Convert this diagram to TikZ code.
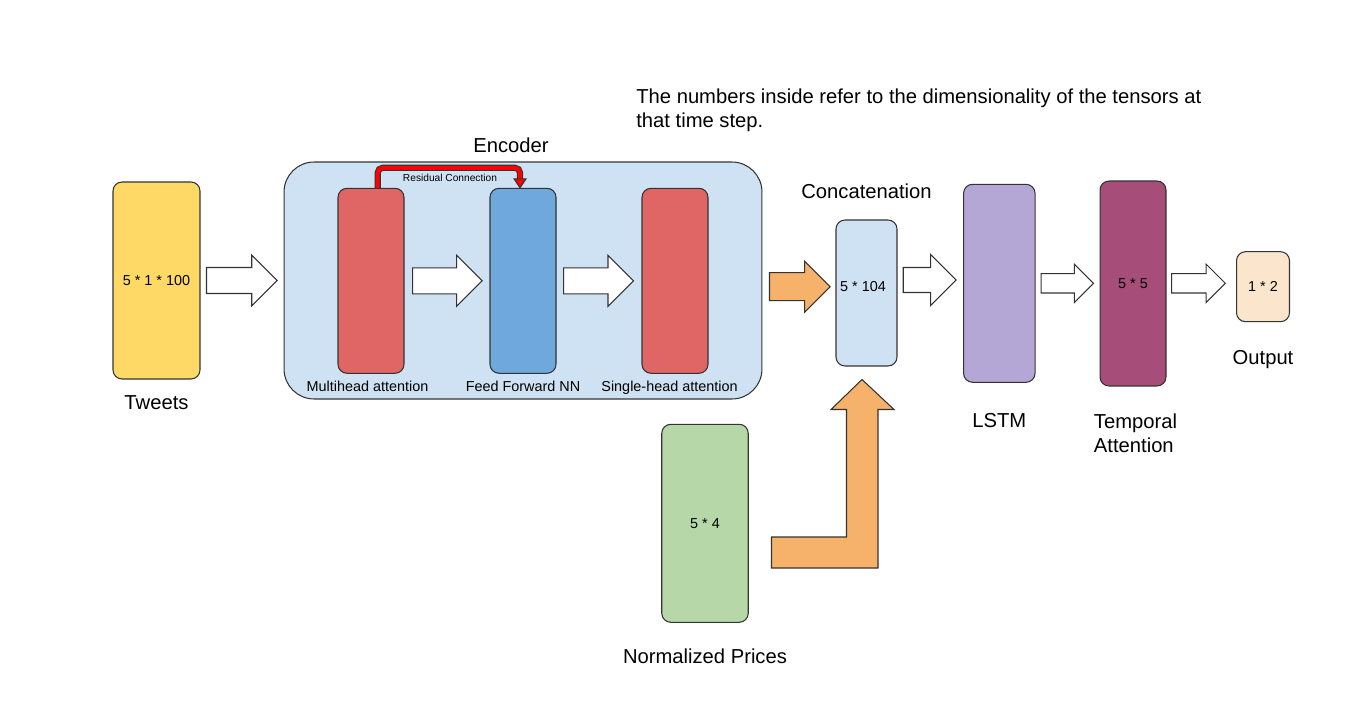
\documentclass[tikz,border=0pt]{standalone}
\usepackage{fontspec}
\setmainfont{Liberation Sans}
\usetikzlibrary{positioning}
\usetikzlibrary{calc}
\usetikzlibrary{arrows.meta}

\definecolor{tweetyel}{HTML}{FFD966}
\definecolor{encblue}{HTML}{CFE2F3}
\definecolor{attred}{HTML}{E06666}
\definecolor{ffblue}{HTML}{6FA8DC}
\definecolor{lstmpurple}{HTML}{B4A7D6}
\definecolor{tamagenta}{HTML}{A64D79}
\definecolor{outpeach}{HTML}{FCE5CD}
\definecolor{pricegreen}{HTML}{B6D7A8}
\definecolor{catorange}{HTML}{F6B26B}

% block arrow: [fill]{start}{tip}{half shaft}{half head}
\newcommand{\fatarrow}[5][white]{%
  \coordinate (fa-e) at #3;
  \coordinate (fa-s0) at #2;
  \coordinate (fa-s) at (fa-s0 |- fa-e);
  \draw[fatline, fill=#1] ($(fa-s)+(0,-#4)$) -- ($(fa-e)+(-#5,-#4)$) -- ($(fa-e)+(-#5,-#5)$) -- (fa-e)
    -- ($(fa-e)+(-#5,#5)$) -- ($(fa-e)+(-#5,#4)$) -- ($(fa-s)+(0,#4)$) -- cycle;}

\begin{document}
\begin{tikzpicture}[x=0.02cm,y=-0.02cm]
				\tikzset{block/.style = {shape=rectangle, rounded corners=0.18cm, draw=black!80, line width=0.6pt, inner sep=0pt, font=\fontsize{8.2}{9.8}\selectfont}}
				\tikzset{boxcap/.style = {inner sep=0pt, align=left, font=\fontsize{11.5}{13.6}\selectfont}}
				\tikzset{subcap/.style = {inner sep=0pt, font=\fontsize{8.2}{9.8}\selectfont}}
				\tikzset{tinycap/.style = {inner sep=0pt, font=\fontsize{5.8}{7}\selectfont}}
				\tikzset{fatline/.style = {draw=black!80, line width=0.6pt}}
				\tikzset{resid/.style = {draw=red, line width=2.3pt, rounded corners=0.1cm, preaction={draw=black!80, line width=3.5pt}}}
				\tikzset{residhead/.style = {fill=red, draw=black!80, line width=0.6pt}}
				\useasboundingbox (0,0) rectangle (1364,722);

				\node[boxcap, anchor=north west] (note) at (636,89)
				{The numbers inside refer to the dimensionality of the tensors at\\that time step.};

				\node[block, fill=tweetyel, minimum width=1.74cm, minimum height=3.94cm] (tw) at (156.5,280.5) {5 * 1 * 100};
				\node[boxcap, below=0.32cm of tw] (twcap) {Tweets};

				% encoder
				\node[block, fill=encblue, rounded corners=0.6cm, minimum width=9.56cm, minimum height=4.74cm] (enc) at (523,280.5) {};
				\node[boxcap, above=0.16cm of enc, xshift=-0.24cm] (enccap) {Encoder};
				\node[block, fill=attred, minimum width=1.32cm, minimum height=3.7cm] (mha) at (371,280.8) {};
				\node[block, fill=ffblue, minimum width=1.32cm, minimum height=3.7cm] (ffn) at (523,280.8) {};
				\node[block, fill=attred, minimum width=1.32cm, minimum height=3.7cm] (sha) at (675,280.8) {};
				\node[subcap, below=0.13cm of mha, xshift=-0.07cm] (mhacap) {Multihead attention};
				\node[subcap, below=0.13cm of ffn] (ffncap) {Feed Forward NN};
				\node[subcap, below=0.13cm of sha, xshift=-0.11cm] (shacap) {Single-head attention};

				\coordinate (rs) at ($(mha.north)+(6.7,0)$);
				\coordinate (re) at ($(ffn.north)+(-3,0)$);
				\draw[resid] (rs) -- ++(0,-20) -| ($(re)+(0,-8)$);
				\filldraw[residhead] ($(re)+(-6,-9)$) -- (re) -- ($(re)+(6,-9)$) -- cycle;
				\node[tinycap] (rescap) at ($(mha.north)!0.5!(ffn.north)+(3,-10)$) {Residual Connection};

				\node[block, fill=encblue, minimum width=1.22cm, minimum height=2.92cm] (cc) at (866.5,293) {};
				\node[subcap] (cctext) at ($(cc.center)+(-3.5,-6)$) {5 * 104};
				\node[boxcap, above=0.41cm of cc] (cccap) {Concatenation};
				\node[block, fill=lstmpurple, minimum width=1.43cm, minimum height=3.96cm] (lstm) at (999.3,283.3) {};
				\node[boxcap, below=0.61cm of lstm] (lstmcap) {LSTM};
				\node[block, fill=tamagenta, minimum width=1.32cm, minimum height=4.1cm] (ta) at (1133,283.5) {5 * 5};
				\node[boxcap, below=0.54cm of ta, xshift=0.05cm] (tacap) {Temporal\\Attention};
				\node[block, fill=outpeach, minimum width=1.06cm, minimum height=1.4cm] (out) at (1263,286.7) {1 * 2};
				\node[boxcap, below=0.56cm of out] (outcap) {Output};
				\node[block, fill=pricegreen, minimum width=1.73cm, minimum height=3.96cm] (np) at (705,523.3) {5 * 4};
				\node[boxcap, below=0.51cm of np] (npcap) {Normalized Prices};

				\fatarrow{($(tw.east)+(6,0)$)}{($(enc.west)+(-6.3,0)$)}{13}{25.5}
				\fatarrow{($(mha.east)+(8,0)$)}{($(ffn.west)+(-7.3,0)$)}{13}{25.5}
				\fatarrow{($(ffn.east)+(7,0)$)}{($(sha.west)+(-8,0)$)}{13}{25.5}
				\fatarrow[catorange]{($(enc.east)+(7,0)$)}{($(cc.west)+(-5.4,-6.3)$)}{14}{25.5}
				\fatarrow{($(cc.east)+(5.7,0)$)}{($(lstm.west)+(-7,-3.3)$)}{12.5}{25.5}
				\fatarrow{($(lstm.east)+(5.6,0)$)}{($(ta.west)+(-6,-0.2)$)}{9.7}{19.2}
				\fatarrow{($(ta.east)+(5,0)$)}{($(out.west)+(-10.7,-3.4)$)}{9.7}{19.2}

				% prices into concatenation
				\coordinate (ltip) at ($(cc.south)+(-4.5,13)$);
				\coordinate (lstart) at ($(np.east)+(22.7,29.2)$);
				\coordinate (lelbow) at (ltip |- lstart);
				\draw[fatline, fill=catorange] ($(lstart)+(0,-15.5)$) -- ($(lelbow)+(-15.5,-15.5)$) -- ($(ltip)+(-15.5,30)$)
				  -- ($(ltip)+(-31,30)$) -- (ltip) -- ($(ltip)+(32,30)$) -- ($(ltip)+(16,30)$)
				  -- ($(lelbow)+(16,15.5)$) -- ($(lstart)+(0,15.5)$) -- cycle;
\end{tikzpicture}
\end{document}
